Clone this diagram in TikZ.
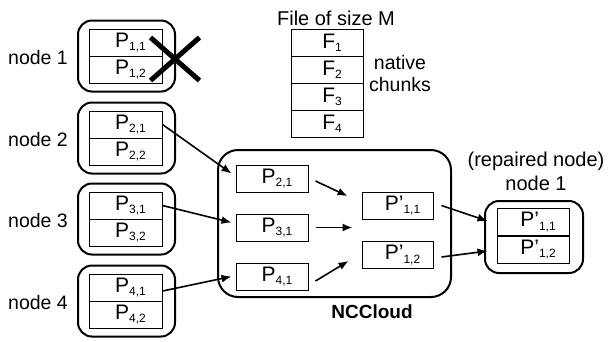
\documentclass[tikz,border=0pt]{standalone}
\usepackage{fontspec}
\setmainfont{Liberation Sans}
\usetikzlibrary{arrows.meta,shapes.misc}
\newcommand{\chunk}[2]{\hspace*{10pt}#1\raisebox{-3.5pt}{\fontsize{12}{14}\selectfont #2}}
\begin{document}
\begin{tikzpicture}[x=1pt,y=-1pt,
        every node/.style={font=\fontsize{20}{24}\selectfont},
        cell/.style={draw,line width=1pt,minimum width=73pt,minimum height=27pt,inner sep=0pt,font=\fontsize{21}{24}\selectfont},
        holder/.style={draw,line width=2pt,rounded corners=14pt,minimum width=97pt,minimum height=71pt},
        nodename/.style={font=\fontsize{19.5}{22}\selectfont},
        arr/.style={-{Latex[length=10pt,width=8pt]},line width=1.6pt}]
        \useasboundingbox (0,0) rectangle (609,341);

        % storage nodes
        \foreach \i/\y in {1/56,2/138,3/219,4/301} {
            \node[holder] (node\i) at (126.5,\y) {};
            \node[cell] (n\i1) at (125.5,\y-13.5) {\chunk{P}{\i,1}};
            \node[cell] (n\i2) at (125.5,\y+13.5) {\chunk{P}{\i,2}};
            \node[nodename] (name\i) at (38,\y+2) {node \i};
        }
        \node[draw,cross out,inner sep=0pt,line width=5pt,minimum width=44pt,minimum height=38pt] (fail) at (175,59) {};

        % file
        \node (title) at (336,18) {File of size M};
        \foreach \j in {1,...,4}
            \node[cell,minimum width=72pt] (f\j) at (327,16+27*\j) {\chunk{F}{\j}};
        \node[nodename,align=center] (native) at (400,74) {native\\chunks};

        % NCCloud
        \node[draw,line width=2pt,rounded corners=20pt,minimum width=233pt,minimum height=147pt] (cloud) at (334.5,223.5) {};
        \node[font=\fontsize{19}{22}\selectfont\bfseries] (cloudname) at (372,312) {NCCloud};
        \node[cell,minimum width=72pt] (p21) at (272,178.5) {\chunk{P}{2,1}};
        \node[cell,minimum width=72pt] (p31) at (272,227.5) {\chunk{P}{3,1}};
        \node[cell,minimum width=72pt] (p41) at (272,276.5) {\chunk{P}{4,1}};
        \node[cell,minimum width=71pt] (pp11) at (397.5,205.5) {\chunk{P'}{1,1}};
        \node[cell,minimum width=71pt] (pp12) at (397.5,255) {\chunk{P'}{1,2}};
        \coordinate (merge) at (pp11.west |- p31.east);

        % repaired node
        \node[holder,minimum width=98pt,minimum height=72pt] (rep) at (534,237) {};
        \node[cell,minimum width=72pt] (r11) at (533,222) {\chunk{P'}{1,1}};
        \node[cell,minimum width=72pt] (r12) at (533,249.5) {\chunk{P'}{1,2}};
        \node[align=center] (repname) at (536,171) {(repaired node)\\node 1};

        % transfers
        \draw[arr] (n21.east) -- ([xshift=-4pt,yshift=5pt]p21.west);
        \draw[arr] (n31.east) -- ([xshift=-4pt,yshift=5pt]p31.west);
        \draw[arr] ([yshift=-3.5pt]n41.east) -- ([xshift=-4pt]p41.west);
        \draw[arr] ([xshift=7pt,yshift=-2.5pt]p21.east) -- ([xshift=-14pt,yshift=9.5pt]pp11.west);
        \draw[arr] ([xshift=7pt]p31.east) -- ([xshift=-9pt]merge);
        \draw[arr] ([xshift=7pt,yshift=-4.5pt]p41.east) -- ([xshift=-13pt,yshift=-6pt]pp12.west);
        \draw[arr] ([xshift=8pt]pp11.east) -- ([xshift=-9pt,yshift=1pt]r11.west);
        \draw[arr] ([xshift=8pt,yshift=-2pt]pp12.east) -- ([xshift=-9pt,yshift=-1.5pt]r12.west);
\end{tikzpicture}
\end{document}
